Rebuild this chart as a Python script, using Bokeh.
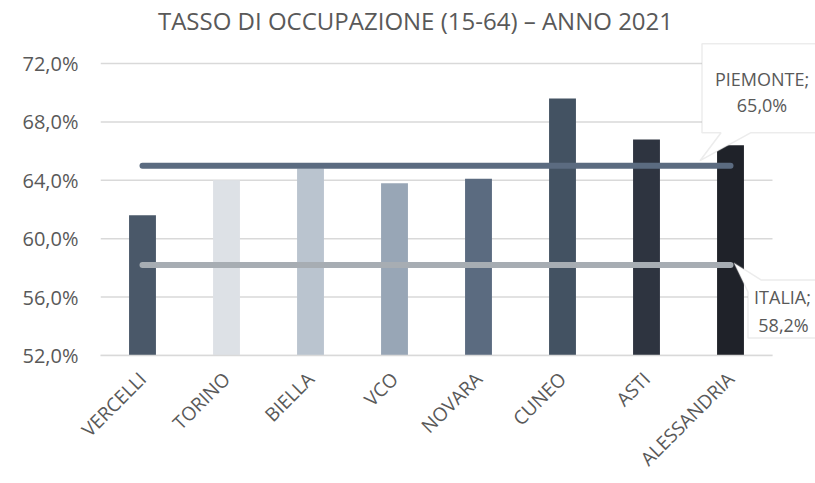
from bokeh.plotting import figure
from bokeh.models import Label, PolyAnnotation, CustomJSTickFormatter, FixedTicker, Range1d
from bokeh.embed import file_html
from bokeh.resources import INLINE
import math

# ---- data ----
categories = ["VERCELLI", "TORINO", "BIELLA", "VCO", "NOVARA", "CUNEO", "ASTI", "ALESSANDRIA"]
values = [61.6, 64.0, 64.8, 63.8, 64.1, 69.6, 66.8, 66.4]
bar_colors = ["#4a5869", "#dde1e6", "#bac4cf", "#98a6b6", "#5b6b80", "#435262", "#2e3440", "#1f2229"]
piemonte = 65.0
italia = 58.2
y_ticks = [52, 56, 60, 64, 68, 72]
title_text = "TASSO DI OCCUPAZIONE (15-64) – ANNO 2021"

FONT = "Open Sans"
TXT = "#595959"
GRID = "#d9d9d9"

# ---- layout (pixels) ----
W, H = 815, 483
FL = 100                 # frame left
FB = 355                 # y pixel of the value axis baseline (frame bottom)
PLOT_W = 672             # width of the category area
Y0, Y1 = y_ticks[0], y_ticks[-1]
SY = 292 / (Y1 - Y0)     # px per percentage point
N = len(categories)
SX = PLOT_W / N          # px per category

x_pos = [i + 0.5 for i in range(N)]

p = figure(x_range=Range1d(0, (W - FL) / SX), y_range=Range1d(Y0, Y0 + FB / SY),
           width=W, height=H, output_backend="svg", toolbar_location=None,
           min_border_left=FL, min_border_right=0, min_border_top=0,
           min_border_bottom=H - FB)
p.outline_line_color = None
p.background_fill_color = "white"
p.xgrid.grid_line_color = None
p.ygrid.grid_line_color = None

# horizontal gridlines limited to the category area
p.segment(x0=[0] * len(y_ticks), x1=[N] * len(y_ticks), y0=y_ticks, y1=y_ticks,
          line_color=GRID, line_width=1.5)

p.vbar(x=x_pos, top=values, bottom=Y0, width=0.32, color=bar_colors, line_color=None)

p.line(x=[x_pos[0], x_pos[-1]], y=[piemonte, piemonte], line_color="#5b6b80",
       line_width=6, line_cap="round")
p.line(x=[x_pos[0], x_pos[-1]], y=[italia, italia], line_color="#a7adb3",
       line_width=6, line_cap="round")

# axes
p.yaxis.ticker = FixedTicker(ticks=y_ticks)
p.yaxis.formatter = CustomJSTickFormatter(code="return tick.toFixed(1).replace('.', ',') + '%';")
p.yaxis.axis_line_color = None
p.yaxis.major_tick_line_color = None
p.yaxis.minor_tick_line_color = None
p.yaxis.major_label_text_font = FONT
p.yaxis.major_label_text_font_size = "20px"
p.yaxis.major_label_text_color = TXT
p.yaxis.major_label_standoff = 16

p.xaxis.ticker = FixedTicker(ticks=x_pos)
p.xaxis.formatter = CustomJSTickFormatter(args=dict(cats=categories),
                                          code="return cats[Math.floor(tick)];")
p.xaxis.bounds = (0, N)
p.xaxis.axis_line_color = GRID
p.xaxis.axis_line_width = 1.5
p.xaxis.major_tick_line_color = None
p.xaxis.minor_tick_line_color = None
p.xaxis.major_label_orientation = math.pi / 4
p.xaxis.major_label_text_font = FONT
p.xaxis.major_label_text_font_size = "19px"
p.xaxis.major_label_text_color = TXT
p.xaxis.major_label_standoff = 14

def pt(ax, ay, dx, dy):
    return ax + dx / SX, ay - dy / SY

# title
tx, ty = pt(N / 2, Y1, -21, -43)
p.add_layout(Label(x=tx, y=ty, text=title_text, text_align="center", text_baseline="middle",
                   text_font=FONT, text_font_size="24px", text_color=TXT))

def callout(anchor_y, poly, lines):
    xs, ys = [], []
    for dx, dy in poly:
        a, b = pt(x_pos[-1], anchor_y, dx, dy)
        xs.append(a); ys.append(b)
    p.add_layout(PolyAnnotation(xs=xs, ys=ys, fill_color="white", fill_alpha=1,
                                line_color="#bfbfbf", line_width=1.5))
    for (dx, dy, t) in lines:
        a, b = pt(x_pos[-1], anchor_y, dx, dy)
        p.add_layout(Label(x=a, y=b, text=t, text_align="center", text_baseline="middle",
                           text_font=FONT, text_font_size="18px", text_color=TXT))

callout(piemonte,
        [(-30.5, -5), (20.5, -33), (110, -33), (110, -122), (-28.5, -122), (-28.5, -33), (-9.5, -33)],
        [(31.5, -87, "PIEMONTE;"), (31.5, -61, "65,0%")])
callout(italia,
        [(3.5, -2), (30.5, 15), (110, 15), (110, 73), (17.5, 73), (17.5, 27)],
        [(52, 32, "ITALIA;"), (53, 60, "58,2%")])

open("out.html", "w").write(file_html(p, INLINE))
